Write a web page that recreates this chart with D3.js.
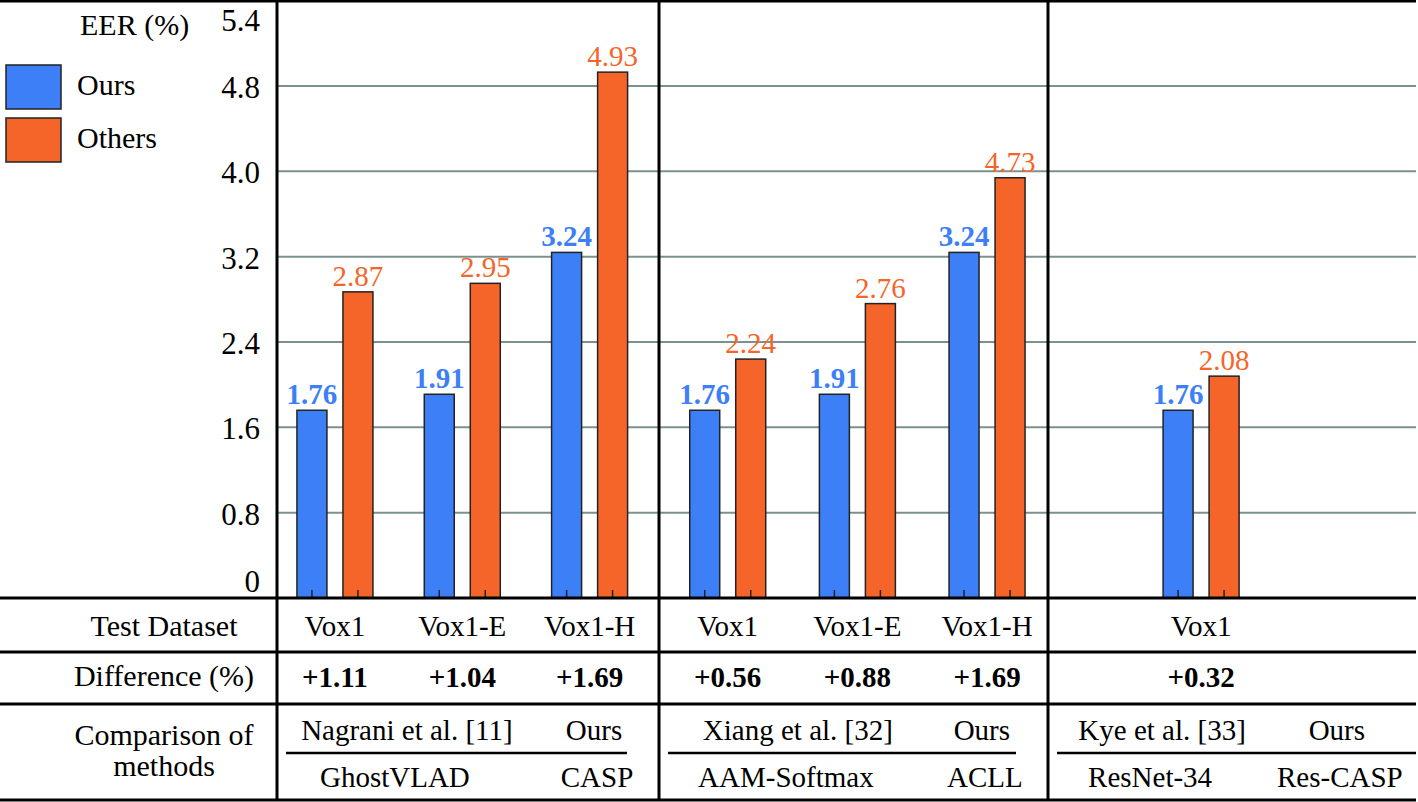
<!DOCTYPE html>
<html>
  <head>
    <meta charset="utf-8" />
    <script src="https://d3js.org/d3.v7.min.js"></script>
    <title>EER comparison</title>
    <style>
      body { margin: 0; background: #fff; }
      text { font-family: 'Liberation Serif', 'Times New Roman', serif; fill: #000; }
    </style>
  </head>

  <body>
    <div id="chart"></div>
  </body>

  <script>
    // data
    var datasets = ['Vox1', 'Vox1-E', 'Vox1-H', 'Vox1', 'Vox1-E', 'Vox1-H', 'Vox1'];
    var sectionOf = [0, 0, 0, 1, 1, 1, 2];
    var oursEER = [1.76, 1.91, 3.24, 1.76, 1.91, 3.24, 1.76];
    var othersEER = [2.87, 2.95, 4.93, 2.24, 2.76, 4.73, 2.08];
    // heights the bars are actually drawn at (the 4.73 bar is drawn short in the source)
    var othersBar = [2.87, 2.95, 4.93, 2.24, 2.76, 3.94, 2.08];
    var differences = ['+1.11', '+1.04', '+1.69', '+0.56', '+0.88', '+1.69', '+0.32'];
    var othersMethod = ['Nagrani et al. [11]', 'Xiang et al. [32]', 'Kye et al. [33]'];
    var othersModel = ['GhostVLAD', 'AAM-Softmax', 'ResNet-34'];
    var oursMethod = ['Ours', 'Ours', 'Ours'];
    var oursModel = ['CASP', 'ACLL', 'Res-CASP'];
    var yTicks = [0, 0.8, 1.6, 2.4, 3.2, 4.0, 4.8, 5.4];
    var seriesNames = ['Ours', 'Others'];

    var width = 1418,
      height = 802;
    var blue = '#3d7ff6',
      orange = '#f5652a';

    // layout
    var colX = [277, 659, 1048, 1416]; // column separators
    var secAlign = [0.455, 0.53, 0.416];
    var othersFrac = [0.34, 0.357, 0.31]; // where the method names sit inside a column
    var oursFrac = [0.83, 0.83, 0.785];
    var rowY = [652, 704, 800]; // table row lines below the axis

    var svg = d3
      .select('#chart')
      .append('svg')
      .attr('width', width)
      .attr('height', height);

    var y = d3.scaleLinear().domain([0, 5.4]).range([598, 22]);

    // x position of each dataset column
    var catX = datasets.map(function (d, i) {
      var s = sectionOf[i];
      var idx = sectionOf.map((v, j) => j).filter((j) => sectionOf[j] === s);
      var sc = d3
        .scalePoint()
        .domain(idx)
        .range([colX[s], colX[s + 1]])
        .padding(0.5)
        .align(secAlign[s]);
      return sc(i);
    });

    var inner = d3
      .scaleBand()
      .domain(seriesNames)
      .range([-38, 38])
      .paddingInner(0.348);

    // gridlines
    svg
      .append('g')
      .selectAll('line')
      .data(yTicks.filter((v) => v > 0 && v < 5.4))
      .join('line')
      .attr('x1', colX[0])
      .attr('x2', colX[3])
      .attr('y1', (d) => y(d))
      .attr('y2', (d) => y(d))
      .attr('stroke', '#7b9190')
      .attr('stroke-width', 2);

    // tick labels
    svg
      .append('g')
      .selectAll('text')
      .data(yTicks)
      .join('text')
      .attr('x', 260)
      .attr('y', function (d) {
        if (d === 0) return y(d) - 6;
        if (d === 5.4) return y(d) + 9;
        return y(d) + 12;
      })
      .attr('text-anchor', 'end')
      .style('font-size', '31px')
      .text((d) => d3.format('.1f')(d).replace(/^0\.0$/, '0'));

    // bars
    var bars = [];
    datasets.forEach(function (d, i) {
      bars.push({ i: i, s: 'Ours', v: oursEER[i], h: oursEER[i], label: d3.format('.2f')(oursEER[i]) });
      bars.push({ i: i, s: 'Others', v: othersEER[i], h: othersBar[i], label: d3.format('.2f')(othersEER[i]) });
    });

    svg
      .append('g')
      .selectAll('rect')
      .data(bars)
      .join('rect')
      .attr('x', (d) => catX[d.i] + inner(d.s))
      .attr('y', (d) => y(d.h))
      .attr('width', inner.bandwidth())
      .attr('height', (d) => y(0) - y(d.h))
      .attr('fill', (d) => (d.s === 'Ours' ? blue : orange))
      .attr('stroke', '#222')
      .attr('stroke-width', 1.5);

    // little ticks at the bottom of each bar
    svg
      .append('g')
      .selectAll('line')
      .data(bars)
      .join('line')
      .attr('x1', (d) => catX[d.i] + inner(d.s) + inner.bandwidth() / 2)
      .attr('x2', (d) => catX[d.i] + inner(d.s) + inner.bandwidth() / 2)
      .attr('y1', y(0))
      .attr('y2', y(0) - 8)
      .attr('stroke', '#222')
      .attr('stroke-width', 1.5);

    // value labels
    svg
      .append('g')
      .selectAll('text')
      .data(bars)
      .join('text')
      .attr('x', (d) => catX[d.i] + inner(d.s) + inner.bandwidth() / 2)
      .attr('y', (d) => y(d.h) - 6)
      .attr('text-anchor', 'middle')
      .style('font-size', '29px')
      .style('font-weight', (d) => (d.s === 'Ours' ? 'bold' : 'normal'))
      .style('fill', (d) => (d.s === 'Ours' ? blue : orange))
      .text((d) => d.label);

    // table: test dataset + difference rows
    svg
      .append('g')
      .selectAll('text')
      .data(datasets)
      .join('text')
      .attr('x', (d, i) => catX[i])
      .attr('y', 636)
      .attr('text-anchor', 'middle')
      .style('font-size', '29px')
      .text((d) => d);

    svg
      .append('g')
      .selectAll('text')
      .data(differences)
      .join('text')
      .attr('x', (d, i) => catX[i])
      .attr('y', 687)
      .attr('text-anchor', 'middle')
      .style('font-size', '29px')
      .style('font-weight', 'bold')
      .text((d) => d);

    // comparison of methods row
    var methods = d3.range(3).map(function (s) {
      var sx = d3.scaleLinear().domain([0, 1]).range([colX[s], colX[s + 1]]);
      return {
        s: s,
        xOthers: sx(othersFrac[s]),
        xOurs: sx(oursFrac[s]),
        lineX1: colX[s] + 9,
        lineX2: s === 2 ? colX[3] : colX[s + 1] - 32,
      };
    });

    var mg = svg.append('g').selectAll('g').data(methods).join('g');
    mg.append('text')
      .attr('x', (d) => d.xOthers)
      .attr('y', 740)
      .attr('text-anchor', 'middle')
      .style('font-size', '29px')
      .text((d) => othersMethod[d.s]);
    mg.append('text')
      .attr('x', (d) => d.xOurs)
      .attr('y', 740)
      .attr('text-anchor', 'middle')
      .style('font-size', '29px')
      .text((d) => oursMethod[d.s]);
    mg.append('text')
      .attr('x', (d) => d.xOthers - 12)
      .attr('y', 787)
      .attr('text-anchor', 'middle')
      .style('font-size', '29px')
      .text((d) => othersModel[d.s]);
    mg.append('text')
      .attr('x', (d) => d.xOurs + 3)
      .attr('y', 787)
      .attr('text-anchor', 'middle')
      .style('font-size', '29px')
      .text((d) => oursModel[d.s]);
    mg.append('line')
      .attr('x1', (d) => d.lineX1)
      .attr('x2', (d) => d.lineX2)
      .attr('y1', 753)
      .attr('y2', 753)
      .attr('stroke', '#000')
      .attr('stroke-width', 2.5);

    // row headers
    var heads = [
      { t: 'Test Dataset', y: 636 },
      { t: 'Difference (%)', y: 686 },
      { t: 'Comparison of', y: 745 },
      { t: 'methods', y: 776 },
    ];
    svg
      .append('g')
      .selectAll('text')
      .data(heads)
      .join('text')
      .attr('x', 164)
      .attr('y', (d) => d.y)
      .attr('text-anchor', 'middle')
      .style('font-size', '30px')
      .text((d) => d.t);

    // table frame lines
    var hLines = [1, y(0)].concat(rowY);
    svg
      .append('g')
      .selectAll('line')
      .data(hLines)
      .join('line')
      .attr('x1', 0)
      .attr('x2', colX[3])
      .attr('y1', (d) => d)
      .attr('y2', (d) => d)
      .attr('stroke', '#000')
      .attr('stroke-width', 3);

    svg
      .append('g')
      .selectAll('line')
      .data(colX.slice(0, 3))
      .join('line')
      .attr('x1', (d) => d)
      .attr('x2', (d) => d)
      .attr('y1', 0)
      .attr('y2', rowY[2])
      .attr('stroke', '#000')
      .attr('stroke-width', 3);

    // legend
    svg
      .append('text')
      .attr('x', 80)
      .attr('y', 35)
      .style('font-size', '30px')
      .text('EER (%)');

    var legend = svg
      .append('g')
      .selectAll('g')
      .data(seriesNames)
      .join('g')
      .attr('transform', (d, i) => 'translate(6,' + (65 + i * 53) + ')');
    legend
      .append('rect')
      .attr('width', 55)
      .attr('height', 44)
      .attr('fill', (d) => (d === 'Ours' ? blue : orange))
      .attr('stroke', '#222')
      .attr('stroke-width', 1.5);
    legend
      .append('text')
      .attr('x', 71)
      .attr('y', 30)
      .style('font-size', '30px')
      .text((d) => d);
  </script>
</html>
